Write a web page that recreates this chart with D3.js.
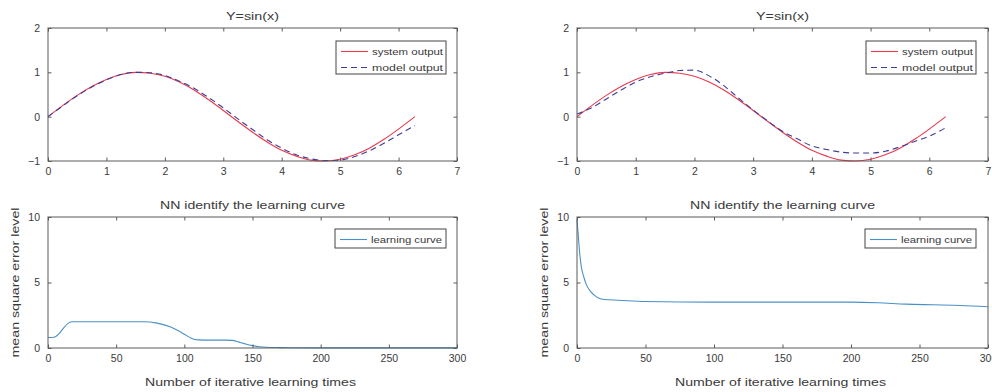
<!DOCTYPE html>
<html>
<head>
<meta charset="utf-8">
<script src="https://cdn.jsdelivr.net/npm/d3@7"></script>
<style>
  html, body { margin: 0; padding: 0; background: #fff; }
  svg { display: block; }
  text { font-family: "Liberation Sans", Arial, sans-serif; fill: #3a3a3a; }
</style>
</head>
<body>
<svg id="chart" width="992" height="392"></svg>
<script>
// ---------- data ----------
const xTop = [0,0.25,0.5,0.75,1,1.25,1.5,1.75,2,2.25,2.5,2.75,3,3.25,3.5,3.75,4,4.25,4.5,4.75,5,5.25,5.5,5.75,6,6.28];
const systemOutput = [0,0.25,0.48,0.68,0.84,0.95,1.0,0.98,0.91,0.78,0.6,0.38,0.14,-0.11,-0.35,-0.57,-0.76,-0.89,-0.98,-1.0,-0.96,-0.86,-0.71,-0.51,-0.28,0];
const modelOutputLeft = [0,0.24,0.47,0.67,0.83,0.95,1.0,0.99,0.93,0.8,0.64,0.43,0.2,-0.05,-0.29,-0.52,-0.71,-0.86,-0.95,-0.99,-0.98,-0.9,-0.77,-0.6,-0.41,-0.2];
const modelOutputRight = [0.06,0.2,0.4,0.6,0.78,0.9,0.98,1.04,1.05,0.92,0.7,0.42,0.15,-0.1,-0.33,-0.5,-0.66,-0.74,-0.8,-0.82,-0.82,-0.78,-0.68,-0.56,-0.44,-0.25];

const iterLeft = [0,3,6,9,12,15,18,25,40,60,70,80,90,95,100,105,110,120,130,135,140,145,150,155,160,170,180,200,250,300];
const curveLeft = [0.8,0.8,0.9,1.2,1.6,1.9,2.0,2.0,2.0,2.0,2.0,1.9,1.6,1.35,1.05,0.75,0.62,0.6,0.6,0.58,0.45,0.3,0.18,0.1,0.06,0.03,0.02,0.01,0.01,0.01];
const iterRight = [0,1,2,3,5,7,10,13,16,20,30,50,100,150,200,220,240,260,280,300];
const curveRight = [9.8,8.5,7.2,6.3,5.4,4.8,4.3,4.0,3.8,3.7,3.65,3.55,3.5,3.5,3.5,3.45,3.35,3.3,3.25,3.15];

const topXTicks = [0,1,2,3,4,5,6,7];
const topYTicks = [-1,0,1,2];
const botXTicks = [0,50,100,150,200,250,300];
const botYTicks = [0,5,10];

const topTitle = "Y=sin(x)";
const botTitle = "NN identify the learning curve";
const botXLabel = "Number of iterative learning times";
const botYLabel = "mean square error level";
const legendTop = ["system output", "model output"];
const legendBot = ["learning curve"];

// ---------- drawing ----------
const svg = d3.select("#chart");
const RED = "#e8394f", NAVY = "#3d3d96", BLUE = "#4a90c8", AX = "#5a5a5a";

function panel(o) {
  const g = svg.append("g");
  const x = d3.scaleLinear().domain(o.xDomain).range([o.left, o.right]);
  const y = d3.scaleLinear().domain(o.yDomain).range([o.bottom, o.top]);

  o.series.forEach(s => {
    const pts = s.x.map((v, i) => [v, s.y[i]]);
    g.append("path").datum(pts)
      .attr("fill", "none").attr("stroke", s.color).attr("stroke-width", 1.1)
      .attr("stroke-dasharray", s.dash || null)
      .attr("d", d3.line().x(d => x(d[0])).y(d => y(d[1])).curve(d3.curveMonotoneX));
  });

  const styleAxis = sel => {
    sel.select(".domain").remove();
    sel.selectAll(".tick line").attr("stroke", AX);
    sel.selectAll(".tick text").attr("fill", "#555").style("font-size", "10.5px")
       .style("font-family", "'Liberation Sans', Arial, sans-serif");
  };
  g.append("g").attr("transform", `translate(0,${o.bottom})`)
    .call(d3.axisBottom(x).tickValues(o.xTicks).tickSize(-3.5).tickPadding(7).tickFormat(d3.format("d")))
    .call(styleAxis);
  g.append("g").attr("transform", `translate(0,${o.top})`)
    .call(d3.axisTop(x).tickValues(o.xTicks).tickSize(-3.5).tickFormat(""))
    .call(styleAxis);
  g.append("g").attr("transform", `translate(${o.left},0)`)
    .call(d3.axisLeft(y).tickValues(o.yTicks).tickSize(-3.5).tickPadding(8).tickFormat(d3.format("d")))
    .call(styleAxis);
  g.append("g").attr("transform", `translate(${o.right},0)`)
    .call(d3.axisRight(y).tickValues(o.yTicks).tickSize(-3.5).tickFormat(""))
    .call(styleAxis);

  g.append("rect").attr("x", o.left).attr("y", o.top)
    .attr("width", o.right - o.left).attr("height", o.bottom - o.top)
    .attr("fill", "none").attr("stroke", AX).attr("stroke-width", 1);

  g.append("text").attr("x", (o.left + o.right) / 2).attr("y", o.top - 8)
    .attr("text-anchor", "middle").style("font-size", "11px")
    .attr("textLength", o.titleLen).attr("lengthAdjust", "spacingAndGlyphs")
    .text(o.title);

  if (o.xlabel) {
    g.append("text").attr("x", (o.left + o.right) / 2 - 2).attr("y", o.bottom + 38)
      .attr("text-anchor", "middle").style("font-size", "11px")
      .attr("textLength", 211).attr("lengthAdjust", "spacingAndGlyphs")
      .text(o.xlabel);
  }
  if (o.ylabel) {
    g.append("text")
      .attr("transform", `translate(${o.left - 29},${(o.top + o.bottom) / 2}) rotate(-90)`)
      .attr("text-anchor", "middle").style("font-size", "11px")
      .attr("textLength", 150).attr("lengthAdjust", "spacingAndGlyphs")
      .text(o.ylabel);
  }

  const L = o.legend;
  const lg = g.append("g");
  lg.append("rect").attr("x", L.x).attr("y", L.y).attr("width", L.w).attr("height", L.h)
    .attr("fill", "#fff").attr("stroke", "#444").attr("stroke-width", 1);
  L.items.forEach((it, i) => {
    const cy = L.y + 10.5 + i * 16;
    lg.append("line").attr("x1", L.x + 5).attr("x2", L.x + 32).attr("y1", cy).attr("y2", cy)
      .attr("stroke", it.color).attr("stroke-width", 1.1).attr("stroke-dasharray", it.dash || null);
    lg.append("text").attr("x", L.x + 36).attr("y", cy + 3.5)
      .style("font-size", "9.5px").attr("textLength", 71).attr("lengthAdjust", "spacingAndGlyphs")
      .text(it.label);
  });
}

const topPanels = [
  {left: 48, right: 457, model: modelOutputLeft, lx: 336},
  {left: 577, right: 988, model: modelOutputRight, lx: 866}
];
topPanels.forEach(p => {
  panel({
    left: p.left, right: p.right, top: 28, bottom: 161,
    xDomain: [0, 7], yDomain: [-1, 2], xTicks: topXTicks, yTicks: topYTicks,
    title: topTitle, titleLen: 53,
    series: [
      {x: xTop, y: systemOutput, color: RED},
      {x: xTop, y: p.model, color: NAVY, dash: "6,4"}
    ],
    legend: {x: p.lx, y: 41, w: 110, h: 33, items: [
      {label: legendTop[0], color: RED},
      {label: legendTop[1], color: NAVY, dash: "6,4"}
    ]}
  });
});

const botPanels = [
  {left: 48, right: 457, xs: iterLeft, ys: curveLeft, lx: 335},
  {left: 577, right: 988, xs: iterRight, ys: curveRight, lx: 865}
];
botPanels.forEach(p => {
  panel({
    left: p.left, right: p.right, top: 217, bottom: 348,
    xDomain: [0, 300], yDomain: [0, 10], xTicks: botXTicks, yTicks: botYTicks,
    title: botTitle, titleLen: 185, xlabel: botXLabel, ylabel: botYLabel,
    series: [{x: p.xs, y: p.ys, color: BLUE}],
    legend: {x: p.lx, y: 229, w: 111, h: 19, items: [
      {label: legendBot[0], color: BLUE}
    ]}
  });
});
</script>
</body>
</html>
